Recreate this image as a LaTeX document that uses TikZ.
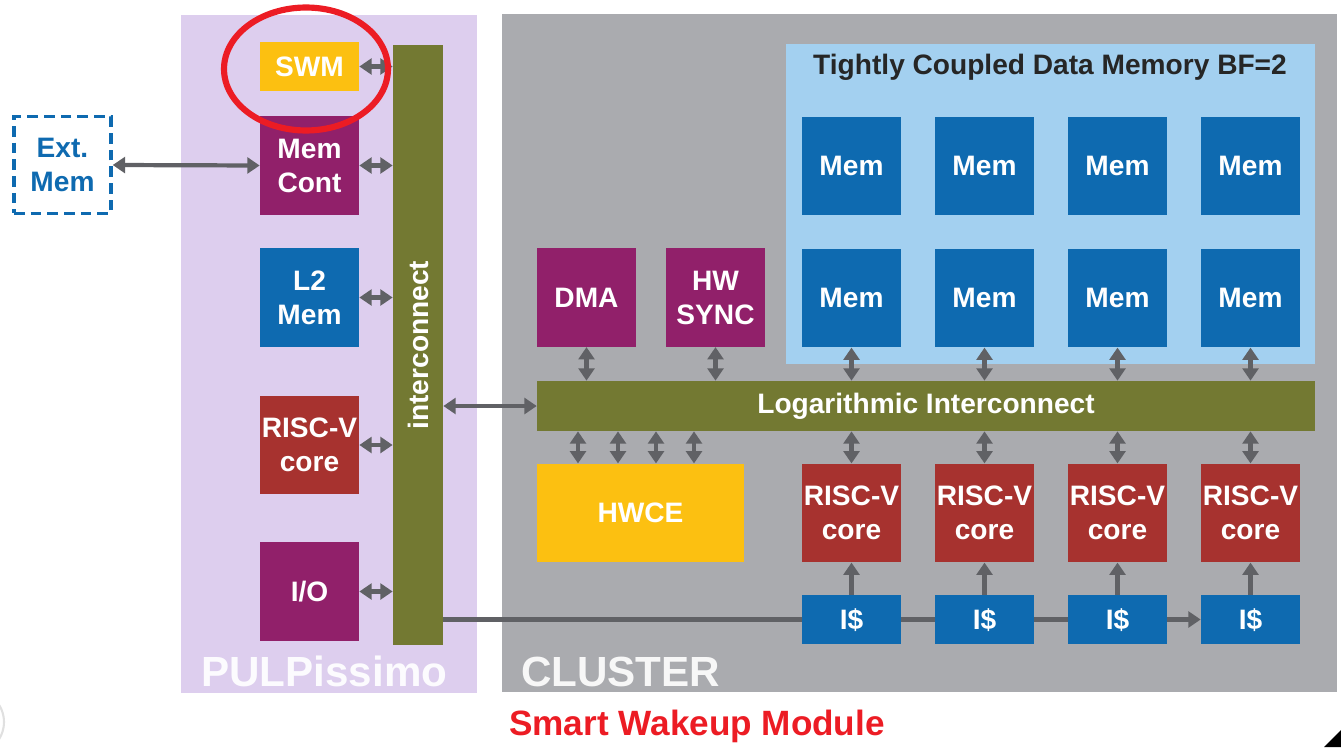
\documentclass[tikz,border=0pt]{standalone}
\usepackage{fontspec}
\setmainfont{Liberation Sans}
\usepackage{tikz}
\usetikzlibrary{arrows.meta,positioning,calc}
\definecolor{lavender}{RGB}{221,206,238}
\definecolor{clustergray}{RGB}{170,171,175}
\definecolor{tcdmblue}{RGB}{163,208,240}
\definecolor{memblue}{RGB}{14,106,176}
\definecolor{plum}{RGB}{145,32,106}
\definecolor{olive}{RGB}{115,121,50}
\definecolor{amber}{RGB}{252,192,17}
\definecolor{brick}{RGB}{167,50,47}
\definecolor{wire}{RGB}{96,97,101}
\definecolor{alert}{RGB}{236,28,36}

\begin{document}
\begin{tikzpicture}[x=0.02cm, y=-0.02cm,
  area/.style={fill=#1, inner sep=0pt},
  blk/.style={fill=#1, text=white, font=\fontsize{16}{19.5}\selectfont\bfseries, align=center,
    inner sep=0pt, minimum width=1.98cm, minimum height=1.97cm, text depth=0pt},
  half/.style={blk=#1, minimum height=0.98cm},
  link/.style={draw=wire, line width=2.4pt, {Triangle[length=7pt,width=9pt]}-{Triangle[length=7pt,width=9pt]}},
  feed/.style={draw=wire, line width=2.4pt, -{Triangle[length=7pt,width=9pt]}},
  bus/.style={draw=wire, line width=2.4pt},
]
\useasboundingbox (0,0) rectangle (1341,747);

% Backgrounds
\node[area=lavender, minimum width=5.92cm, minimum height=13.56cm] (pulp) at (329,354) {};
\node[area=clustergray, minimum width=16.7cm, minimum height=13.56cm] (cluster) at (919.5,353) {};
\node[area=tcdmblue, minimum width=10.58cm, minimum height=6.4cm] (tcdm) at (1050.5,204) {};
\node[font=\fontsize{16}{19.5}\selectfont\bfseries, text=black!85] (tcdmtitle) at (1050,67) {Tightly Coupled Data Memory BF=2};
\node[anchor=base west, font=\fontsize{24}{28}\selectfont\bfseries, text=white!92!lavender] (pulptag) at (195,686) {PULPissimo};
\node[anchor=base west, font=\fontsize{24}{28}\selectfont\bfseries, text=white!90!clustergray] (clustertag) at (515,686) {CLUSTER};

% PULPissimo side
\node[half=amber] (swm) at (309.5,66.5) {SWM};
\node[blk=plum] (memcont) at (309.5,165.5) {Mem\\Cont};
\node[blk=memblue] (l2) at (309.5,297.5) {L2\\Mem};
\node[blk=brick] (pcore) at (309.5,445) {RISC-V\\core};
\node[blk=plum] (io) at (309.5,591.5) {I/O};
\node[area=olive, minimum width=1cm, minimum height=12cm] (ic) at (418,345) {};
\node[rotate=90, text=white, font=\fontsize{16}{19.5}\selectfont\bfseries] (iclabel) at (ic.center) {interconnect};
\node[draw=memblue, line width=2pt, dash pattern=on 6pt off 3.5pt, text=memblue,
  font=\fontsize{16}{19.5}\selectfont\bfseries, align=center, inner sep=0pt,
  minimum width=1.94cm, minimum height=1.94cm] (extmem) at (62.5,165) {Ext.\\Mem};

% Cluster side
\node[blk=plum] (dma) at (586.5,297.5) {DMA};
\node[blk=plum] (hwsync) at (715.5,297.5) {HW\\SYNC};
\node[area=olive, text=white, font=\fontsize{16}{19.5}\selectfont\bfseries,
  minimum width=15.56cm, minimum height=1cm] (logic) at (926,406) {Logarithmic Interconnect};
\node[blk=amber, minimum width=4.14cm] (hwce) at (640.5,513) {HWCE};
\foreach \c/\x in {1/851.5,2/984.5,3/1117.5,4/1250.5} {
  \node[blk=memblue] (mema\c) at (\x,166) {Mem};
  \node[blk=memblue] (memb\c) at (\x,298) {Mem};
  \node[blk=brick] (core\c) at (\x,513) {RISC-V\\core};
  \node[half=memblue] (icache\c) at (\x,619.5) {I\$};
}

% Connections
\draw[link] (extmem.east) -- (memcont.west);
\foreach \n in {swm,memcont,l2,pcore,io}
  \draw[link] (\n.east) -- (\n.east -| ic.west);
\draw[link] (ic.east |- logic.west) -- (logic.west);
\draw[link] (dma.south) -- (dma.south |- logic.north);
\draw[link] (hwsync.south) -- (hwsync.south |- logic.north);
\foreach \x in {578,618,656,694}
  \draw[link] (logic.south -| \x,0) -- (hwce.north -| \x,0);
\foreach \c in {1,...,4} {
  \draw[link] (memb\c.south) -- (memb\c.south |- logic.north);
  \draw[link] (logic.south -| core\c.north) -- (core\c.north);
  \draw[feed] (icache\c.north) -- (core\c.south);
}
\draw[bus] (ic.east |- icache1.west) -- (icache1.west);
\draw[bus] (icache1.east) -- (icache2.west);
\draw[bus] (icache2.east) -- (icache3.west);
\draw[feed] (icache3.east) -- (icache4.west);

% Highlight
\draw[alert, line width=3.5pt] (306,69) ellipse [x radius=1.64cm, y radius=1.23cm];
\node[anchor=base, text=alert, font=\fontsize{20}{24}\selectfont\bfseries] (swmtag) at (697,735) {Smart Wakeup Module};

% Slide leftovers
\draw[black!12, line width=1.2pt] (-28,722) circle [radius=0.64cm];
\fill[black] (1324,747) -- (1341,730) -- (1341,747) -- cycle;
\end{tikzpicture}
\end{document}
